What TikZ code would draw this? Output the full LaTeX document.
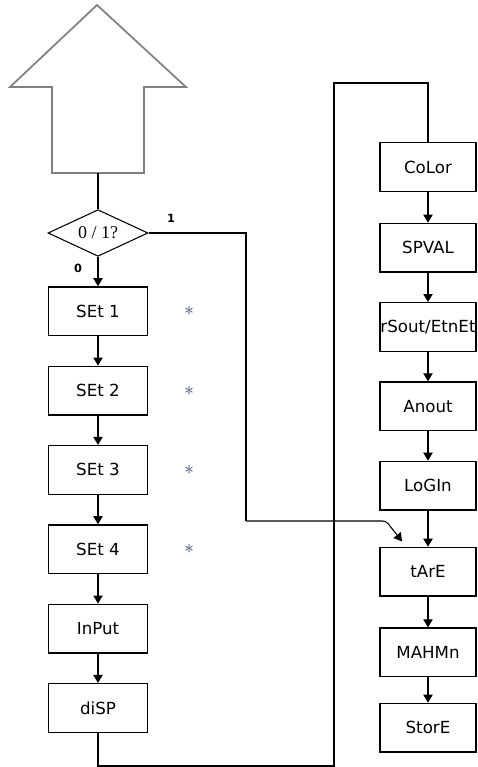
\documentclass[tikz,border=0pt]{standalone}
\usepackage{fontspec}
\setmainfont{DejaVu Sans}
\newfontfamily\qfont{Liberation Serif}
\usetikzlibrary{arrows.meta, positioning, shapes.geometric}
\definecolor{starblue}{RGB}{60,60,120}
\tikzset{
  stepbox/.style={
    draw, line width=1pt,
    minimum width=74pt, minimum height=36.5pt,
    inner sep=0pt, align=center,
    font=\fontsize{12.5}{14}\selectfont
  },
  rstep/.style={stepbox, minimum width=72pt},
  query/.style={
    draw, diamond, line width=0.8pt, aspect=2.1,
    minimum width=75pt, minimum height=35pt,
    inner sep=0pt, font=\qfont\fontsize{13.5}{15}\selectfont
  },
  flow/.style={-{Triangle[length=6pt,width=7pt]}, line width=0.8pt},
  line/.style={line width=0.8pt},
  bigup/.style={draw=black!50, line width=1.3pt, line join=miter},
  branch/.style={font=\bfseries\fontsize{8.5}{9}\selectfont},
  starlbl/.style={text=starblue, font=\Large, inner sep=0pt}
}

\begin{document}
\begin{tikzpicture}[x=0.75pt, y=-0.75pt, node distance=22pt]
  \useasboundingbox (0,0) rectangle (478,767);

  % big up arrow
  \draw[bigup] (97,5) -- (186,87) -- (144,87) -- (144,173)
               -- (52,173) -- (52,87) -- (10,87) -- cycle;

  \node[query] (dec) at (98,233) {0 / 1?};
  \coordinate (up) at (dec.north |- 0,173);

  % left column
  \node[stepbox, below=22pt of dec] (set1) {SEt 1};
  \node[stepbox, below=of set1] (set2) {SEt 2};
  \node[stepbox, below=of set2] (set3) {SEt 3};
  \node[stepbox, below=of set3] (set4) {SEt 4};
  \node[stepbox, below=of set4] (input) {InPut};
  \node[stepbox, below=of input] (disp) {diSP};

  \foreach \s in {set1,set2,set3,set4}
    \node[starlbl, right=27pt of \s] (ast\s) {$\ast$};

  % right column
  \node[rstep] (color) at (428,167) {CoLor};
  \node[rstep, below=23pt of color] (spval) {SPVAL};
  \node[rstep, below=of spval] (rsout) {rSout/EtnEt};
  \node[rstep, below=of rsout] (anout) {Anout};
  \node[rstep, below=of anout] (login) {LoGIn};
  \node[rstep, below=27pt of login] (tare) {tArE};
  \node[rstep, below=23pt of tare] (mahmn) {MAHMn};
  \node[rstep, below=19pt of mahmn] (store) {StorE};

  \draw[line] (up) -- (dec.north);
  \draw[flow] (dec.south) -- (set1.north);
  \node[branch] (lbl0) at (78,268) {0};
  \node[branch] (lbl1) at (171,218) {1};

  \draw[flow] (set1) -- (set2);
  \draw[flow] (set2) -- (set3);
  \draw[flow] (set3) -- (set4);
  \draw[flow] (set4) -- (input);
  \draw[flow] (input) -- (disp);

  \draw[flow] (color) -- (spval);
  \draw[flow] (spval) -- (rsout);
  \draw[flow] (rsout) -- (anout);
  \draw[flow] (anout) -- (login);
  \draw[flow] (login) -- (tare);
  \draw[flow] (tare) -- (mahmn);
  \draw[flow] (mahmn) -- (store);

  % branch 1 into tArE
  \coordinate (drop) at (246,521);
  \coordinate (kink) at (386,521);
  \coordinate (tin) at ([xshift=17pt, yshift=4pt]tare.north west);
  \draw[line] (dec.east) -| (drop);
  \draw[flow, rounded corners=2.5pt] (drop) -- (kink) -- (tin);

  % loop from diSP back to CoLor
  \coordinate (loopb) at (334,766);
  \coordinate (loopt) at (334,83);
  \draw[line] (disp.south) |- (loopb) -- (loopt) -| (color.north);

\end{tikzpicture}
\end{document}
